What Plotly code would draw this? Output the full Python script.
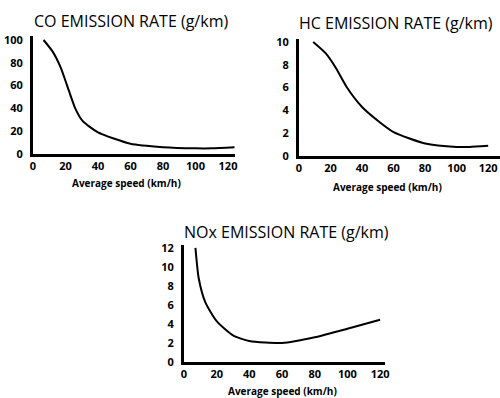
import plotly.graph_objects as go

# Data
co_speed = [6.5, 12, 17, 21, 26, 30.5, 40, 60, 80, 100, 110, 124]
co_rate = [100, 90, 76, 60, 40, 29, 19, 9, 6, 5, 5, 6]

hc_speed = [9, 17, 23.5, 30, 40, 50, 60, 80, 100, 108, 120]
hc_rate = [10, 9.0, 7.7, 6.1, 4.3, 3.1, 2.1, 1.1, 0.8, 0.8, 0.9]

nox_speed = [7, 9, 13, 20, 30, 40, 60, 80, 100, 120]
nox_rate = [12, 8.8, 6.3, 4.3, 2.8, 2.2, 2.0, 2.6, 3.5, 4.45]

x_ticks = [0, 20, 40, 60, 80, 100, 120]
co_ticks = [0, 20, 40, 60, 80, 100]
hc_ticks = [0, 2, 4, 6, 8, 10]
nox_ticks = [0, 2, 4, 6, 8, 10, 12]

titles = ["CO EMISSION RATE (g/km)", "HC EMISSION RATE (g/km)", "NOx EMISSION RATE (g/km)"]
x_title = "Average speed (km/h)"

W, H = 500, 398
FONT = "Open Sans"

def px_x(p):
    return p / W

def px_y(p):
    return 1 - p / H

fig = go.Figure()
line = dict(color="black", width=2, shape="spline", smoothing=0.6)
fig.add_trace(go.Scatter(x=co_speed, y=co_rate, mode="lines", line=line, xaxis="x", yaxis="y"))
fig.add_trace(go.Scatter(x=hc_speed, y=hc_rate, mode="lines", line=line, xaxis="x2", yaxis="y2"))
fig.add_trace(go.Scatter(x=nox_speed, y=nox_rate, mode="lines", line=line, xaxis="x3", yaxis="y3"))

tickfont = dict(family=FONT, size=11, color="black", weight="bold")

def xax(dom, rng, anchor):
    return dict(domain=dom, range=rng, anchor=anchor, tickvals=x_ticks, showgrid=False,
                zeroline=False, showline=True, linecolor="black", linewidth=3,
                ticks="", tickfont=tickfont, ticklabelstandoff=0, automargin=False,
                ticklabeloverflow="allow")

def yax(dom, rng, anchor, tv):
    return dict(domain=dom, range=rng, anchor=anchor, tickvals=tv, showgrid=False,
                zeroline=False, showline=True, linecolor="black", linewidth=3,
                ticks="", tickfont=tickfont, ticklabelstandoff=5, automargin=False)

fig.update_layout(
    template="none",
    width=W, height=H,
    margin=dict(l=0, r=0, t=0, b=0, pad=0),
    paper_bgcolor="white", plot_bgcolor="white",
    showlegend=False,
    xaxis=xax([px_x(33), px_x(235)], [0, 124.3], "y"),
    yaxis=yax([px_y(154), px_y(36)], [0, 103.5], "x", co_ticks),
    xaxis2=xax([px_x(299), px_x(500)], [0, 127.5], "y2"),
    yaxis2=yax([px_y(156), px_y(38.6)], [0, 10.3], "x2", hc_ticks),
    xaxis3=xax([px_x(184), px_x(385)], [0, 123], "y3"),
    yaxis3=yax([px_y(362), px_y(245)], [0, 12.3], "x3", nox_ticks),
)

title_font = dict(family=FONT, size=16, color="black")
sub_font = dict(family=FONT, size=10, color="black", weight="bold")
ann = [
    (titles[0], 131, 21, title_font),
    (titles[1], 396, 23, title_font),
    (titles[2], 286, 232, title_font),
    (x_title, 126, 183, sub_font),
    (x_title, 387, 187, sub_font),
    (x_title, 282, 391, sub_font),
]
for text, x, y, f in ann:
    fig.add_annotation(text=text, x=px_x(x), y=px_y(y), xref="paper", yref="paper",
                       showarrow=False, font=f, xanchor="center", yanchor="middle")

fig.write_html("out.html", config={"displayModeBar": False},
               post_script="document.body.style.margin='0';")
